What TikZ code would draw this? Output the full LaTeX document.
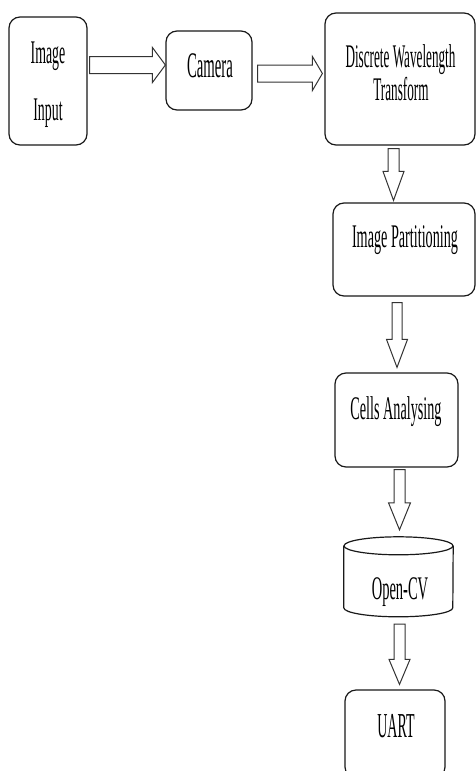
\documentclass[tikz,border=0pt]{standalone}
\usepackage{fontspec}
\setmainfont{Liberation Serif}
\usetikzlibrary{calc}
\newcommand\sqz[2][0.42]{\scalebox{#1}[1]{#2}}
\newcommand\harr[5]{\draw[blk] let \p1=(#1), \p2=(#2) in
  (\x1,\y1+#3) -- (\x2-#5,\y1+#3) -- (\x2-#5,\y1+#4) -- (\x2,\y1) --
  (\x2-#5,\y1-#4) -- (\x2-#5,\y1-#3) -- (\x1,\y1-#3) -- cycle;}
\newcommand\varr[5]{\draw[blk] let \p1=(#1), \p2=(#2) in
  (\x1-#3,\y1) -- (\x1-#3,\y2+#5) -- (\x1-#4,\y2+#5) -- (\x1,\y2) --
  (\x1+#4,\y2+#5) -- (\x1+#3,\y2+#5) -- (\x1+#3,\y1) -- cycle;}
\begin{document}
\begin{tikzpicture}[x=1pt,y=-1pt,
  box/.style={draw=black!90, line width=1.2pt, rounded corners=11pt, inner sep=0pt},
  cyl/.style={draw=black!90, line width=1.2pt},
  blk/.style={draw=black!80, line width=1pt},
  lbl/.style={font=\fontsize{33}{33}\selectfont, inner sep=0pt, anchor=base}]
\clip (0,0) rectangle (476,771);
\fill[white] (0,0) rectangle (476,771);
% boxes
\node[box, minimum width=78pt, minimum height=128pt] (inp) at (48,81) {};
\node[box, minimum width=86pt, minimum height=79pt] (cam) at (209,70.5) {};
\node[box, minimum width=150pt, minimum height=132pt] (dwt) at (400,79) {};
\node[box, minimum width=142pt, minimum height=93pt] (ip) at (404,249.5) {};
\node[box, minimum width=123pt, minimum height=94pt] (ca) at (396.5,420) {};
\node[minimum width=109pt, minimum height=80pt, inner sep=0pt] (cv) at (398.5,577) {};
\node[box, minimum width=100pt, minimum height=88pt] (uart) at (395,734) {};
% cylinder
\draw[cyl] (cv.north west) ++(0,9) -- ++(0,62)
  arc[start angle=180, end angle=360, x radius=54.5pt, y radius=9pt] -- ($(cv.north east)+(0,9)$);
\draw[cyl] ($(cv.north)+(0,9)$) ellipse [x radius=54.5pt, y radius=9pt];
% labels
\node[lbl] (tImage) at (48,63) {\sqz{Image}};
\node[lbl] (tInput) at (48,120) {\sqz{Input}};
\node[lbl, font=\fontsize{36}{36}\selectfont] (tCam) at (210,77) {\sqz[0.41]{Camera}};
\node[lbl] (tDwt1) at (400.5,67) {\sqz[0.40]{Discrete Wavelength}};
\node[lbl] (tDwt2) at (401,100) {\sqz[0.40]{Transform}};
\node[lbl] (tIp) at (405,247) {\sqz[0.43]{Image Partitioning}};
\node[lbl] (tCa) at (396,419) {\sqz[0.43]{Cells Analysing}};
\node[lbl] (tCv) at (400,599) {\sqz[0.44]{Open-CV}};
\node[lbl, font=\fontsize{35}{35}\selectfont] (tUart) at (396,737) {\sqz[0.40]{UART}};
% connector end points
\coordinate (a1s) at ($(inp.east)+(2,-16)$);
\coordinate (a1e) at ($(cam.west)+(0,-5.5)$);
\coordinate (a2s) at ($(cam.east)+(5,3)$);
\coordinate (a2e) at ($(dwt.west)+(-2,-5.5)$);
\coordinate (d1s) at ($(dwt.south)+(-6.5,3)$);
\coordinate (d1e) at ($(ip.north)+(-10.5,-2)$);
\coordinate (d2s) at ($(ip.south)+(-7,6)$);
\coordinate (d2e) at ($(ca.north)+(0.5,-5)$);
\coordinate (d3s) at ($(ca.south)+(3,2)$);
\coordinate (d3e) at ($(cv.north)+(1,-7)$);
\coordinate (d4s) at ($(cv.south)+(1,7)$);
\coordinate (d4e) at ($(uart.north)+(4.5,-5)$);
% block arrows
\harr{a1s}{a1e}{8.5pt}{17.5pt}{13pt}
\harr{a2s}{a2e}{8.5pt}{17pt}{10pt}
\varr{d1s}{d1e}{5.5pt}{10.5pt}{29pt}
\varr{d2s}{d2e}{5pt}{10.5pt}{28pt}
\varr{d3s}{d3e}{5.5pt}{11pt}{27pt}
\varr{d4s}{d4e}{5.5pt}{10.5pt}{25pt}
\end{tikzpicture}
\end{document}
